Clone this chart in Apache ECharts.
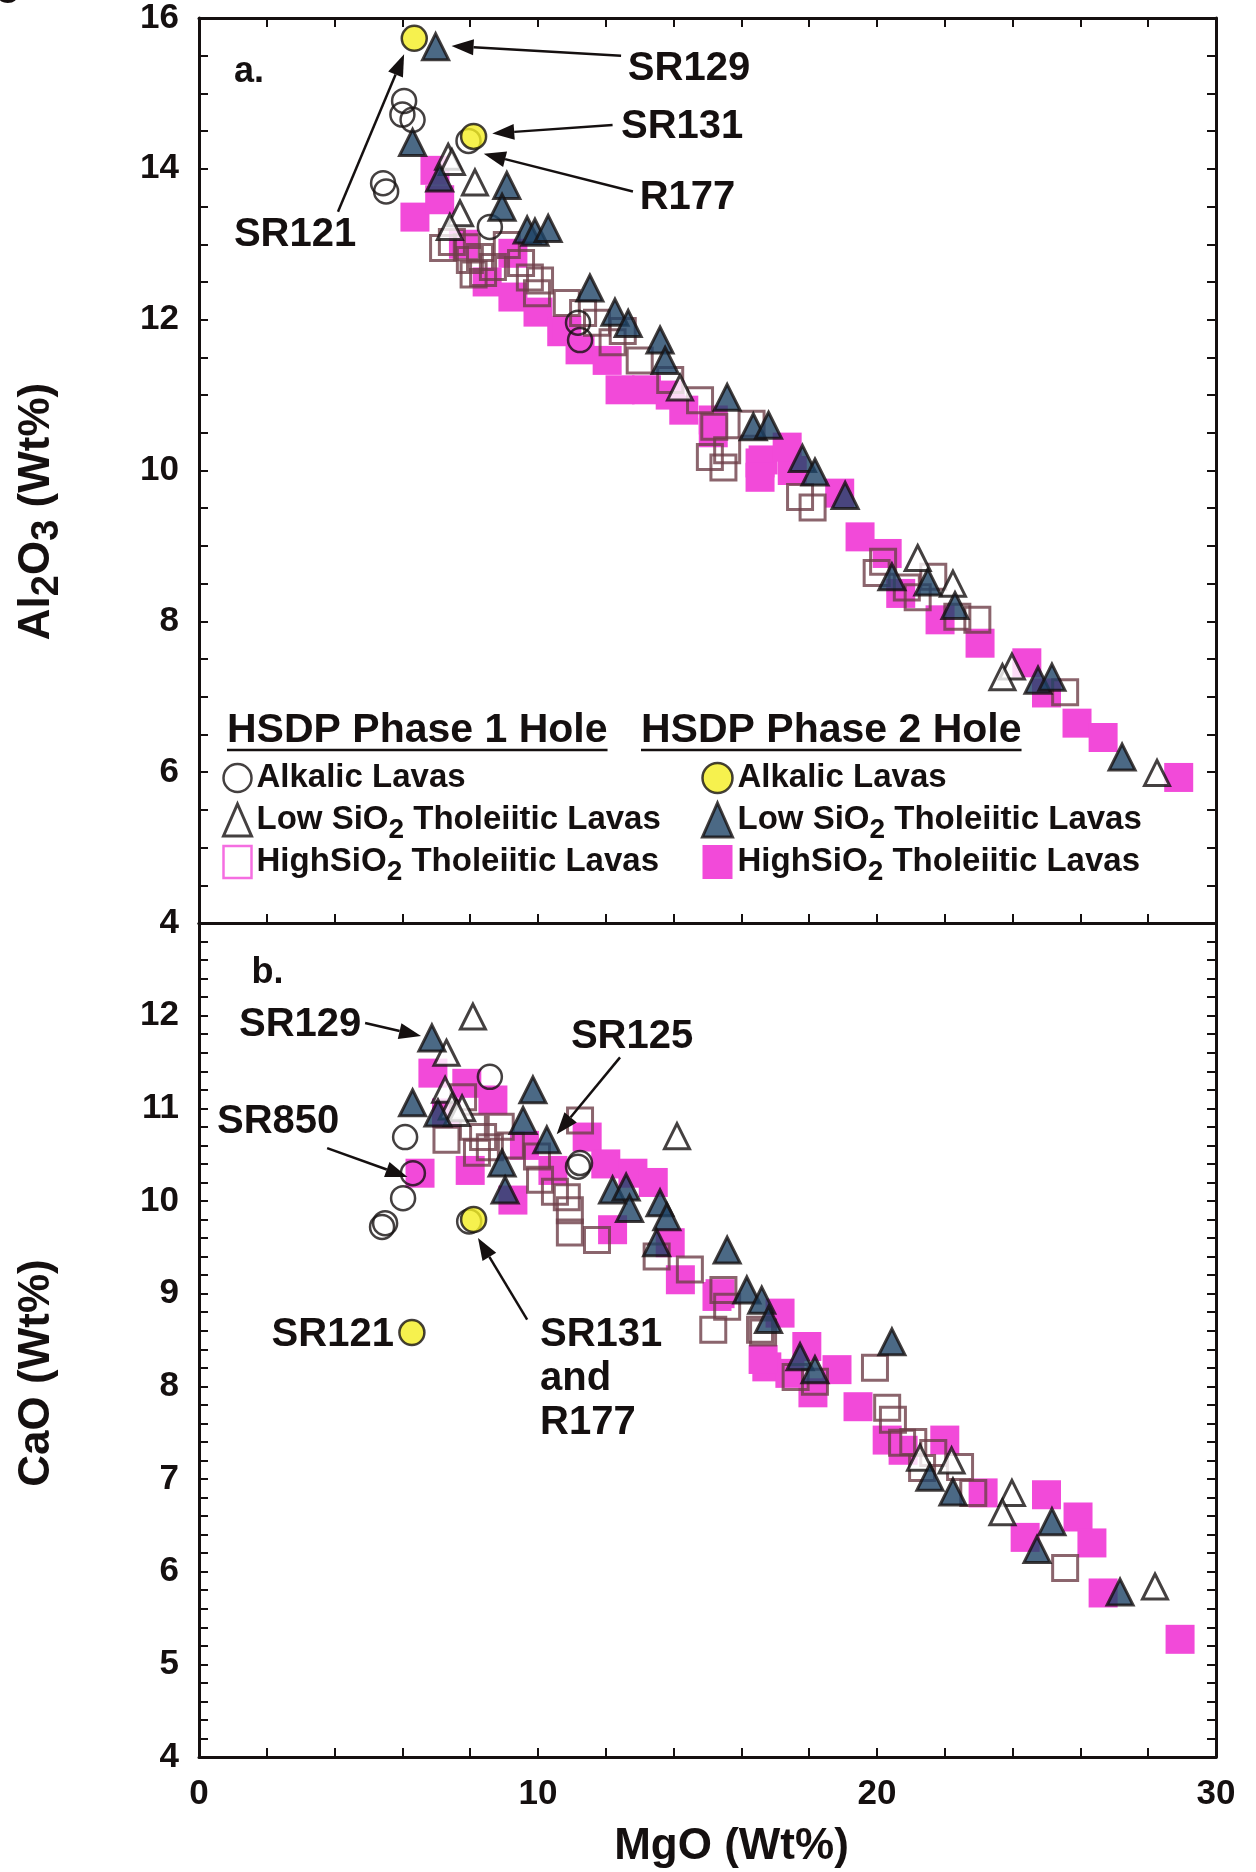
<!DOCTYPE html>
<html>
<head>
<meta charset="utf-8">
<script src="https://cdn.jsdelivr.net/npm/echarts@6/dist/echarts.min.js"></script>
<style>
  html, body { margin: 0; padding: 0; background: #ffffff; }
  #chart { width: 1256px; height: 1872px; }
</style>
</head>
<body>
<div id="chart"></div>
<script>
// ---------- Data: [MgO wt%, oxide wt%] ----------
// Panel a: Al2O3 vs MgO
const p1AlkalicAl = [[6.05,14.9],[6.0,14.72],[6.3,14.65],[5.43,13.81],[5.52,13.7],[8.58,13.23],[11.18,11.96],[11.24,11.73],[7.95,14.37]];
const p1LowSiAl = [[7.35,14.16],[7.46,14.09],[8.14,13.82],[7.7,13.41],[7.4,13.23],[14.19,11.1],[21.2,8.84],[22.24,8.5],[23.98,7.4],[23.7,7.26],[28.26,5.99]];
const p1HighSiAl = [[7.46,13.03],[7.9,12.96],[8.29,12.83],[8.67,12.7],[7.99,12.79],[8.38,12.62],[9.08,12.99],[9.76,12.56],[10.06,12.52],[9.97,12.35],[10.85,12.22],[11.33,12.09],[11.74,11.96],[13.0,11.46],[13.9,11.2],[14.78,10.93],[15.2,10.58],[15.58,10.27],[16.3,10.62],[15.47,10.04],[15.07,10.18],[17.73,9.65],[18.1,9.51],[20.18,8.79],[19.99,8.64],[20.88,8.45],[21.66,8.59],[22.37,8.06],[22.96,8.02],[25.55,7.06],[21.2,8.32],[7.2,12.95],[8.1,12.6],[9.5,12.75],[12.2,11.7],[12.5,11.85]];
const p2AlkalicAl = [[6.35,15.73],[8.1,14.43]];
const p2LowSiAl = [[6.98,15.62],[6.3,14.35],[7.1,13.88],[9.08,13.78],[8.94,13.49],[9.68,13.19],[9.91,13.16],[10.3,13.21],[11.53,12.42],[12.27,12.1],[12.66,11.95],[13.6,11.73],[13.75,11.46],[15.58,10.97],[16.35,10.58],[16.8,10.6],[17.8,10.16],[18.17,9.98],[19.06,9.67],[20.44,8.59],[21.5,8.52],[22.3,8.21],[24.75,7.22],[25.16,7.26],[27.23,6.2]];
const p2HighSiAl = [[6.37,13.36],[6.96,13.98],[7.1,13.59],[7.8,13.0],[8.5,12.5],[9.26,12.88],[9.26,12.3],[10.0,12.1],[10.7,11.84],[10.85,11.86],[11.24,11.6],[12.04,11.46],[12.42,11.07],[13.2,11.07],[13.9,11.0],[14.3,10.8],[15.17,10.67],[16.64,10.14],[17.5,10.0],[15.17,10.5],[16.55,10.1],[17.35,10.31],[16.55,9.91],[18.9,9.7],[19.5,9.12],[20.3,8.9],[20.7,8.37],[21.86,8.02],[23.04,7.71],[24.42,7.45],[25.0,7.05],[25.9,6.65],[26.67,6.46],[28.9,5.93]];

// Panel b: CaO vs MgO
const p1AlkalicCa = [[8.58,11.34],[6.08,10.69],[6.31,10.3],[6.02,10.03],[5.49,9.76],[5.4,9.72],[11.24,10.41],[11.18,10.37],[7.97,9.78]];
const p1LowSiCa = [[8.08,11.99],[7.3,11.6],[7.26,11.2],[7.46,11.02],[7.76,11.0],[7.6,10.95],[14.1,10.7],[21.27,7.23],[22.2,7.2],[23.98,6.85],[23.7,6.64],[28.2,5.84]];
const p1HighSiCa = [[7.3,10.66],[8.08,10.8],[8.38,10.69],[8.58,10.58],[8.2,10.52],[7.79,11.12],[9.2,10.6],[8.9,10.8],[9.97,10.48],[10.06,10.23],[10.5,10.1],[10.85,10.04],[10.94,9.9],[10.94,9.66],[11.74,9.58],[11.24,10.87],[13.5,9.4],[14.48,9.26],[15.17,8.61],[15.47,9.04],[16.64,8.58],[17.6,8.1],[15.58,8.86],[16.55,8.61],[18.17,8.05],[19.94,8.2],[20.3,7.77],[20.47,7.64],[20.74,7.39],[21.07,7.4],[21.33,7.12],[21.66,7.28],[22.45,7.13],[22.84,6.85],[25.55,6.04]];
const p2AlkalicCa = [[6.28,8.58],[8.1,9.8]];
const p2LowSiCa = [[6.87,11.76],[9.85,11.2],[6.3,11.06],[7.05,10.95],[9.56,10.87],[10.26,10.66],[8.94,10.41],[9.03,10.12],[12.2,10.12],[12.6,10.15],[12.7,9.92],[13.6,9.98],[13.8,9.83],[13.5,9.55],[15.58,9.47],[16.16,9.04],[16.6,8.93],[16.8,8.72],[17.73,8.32],[18.17,8.18],[20.44,8.48],[21.56,7.02],[22.24,6.86],[25.16,6.54],[24.72,6.24],[27.17,5.78]];
const p2HighSiCa = [[6.52,10.3],[6.9,11.38],[7.3,10.95],[7.9,11.27],[8.67,11.09],[8.0,10.33],[9.26,10.01],[9.6,10.6],[10.44,10.33],[11.45,10.69],[12.0,10.4],[12.8,10.3],[13.4,10.2],[12.2,9.69],[13.9,9.55],[14.2,9.15],[15.28,8.97],[15.37,9.0],[16.75,8.21],[17.43,8.14],[17.14,8.79],[16.64,8.29],[17.93,8.43],[18.82,8.18],[18.11,7.93],[19.44,7.78],[20.3,7.42],[22.0,7.42],[20.77,7.31],[23.13,6.85],[25.0,6.83],[25.93,6.59],[24.37,6.37],[26.34,6.31],[26.67,5.77],[28.94,5.27]];

// Axis ranges and tick labels
const mgoRange = [0, 30];
const mgoLabels = [0, 10, 20, 30];
const al2o3Range = [4, 16];
const al2o3Labels = [4, 6, 8, 10, 12, 14, 16];
const caoRange = [4, 13];
const caoLabels = [4, 5, 6, 7, 8, 9, 10, 11, 12];

// Labelled samples: text anchor and arrow (start -> tip) in data units
const notesA = [
  { text: 'SR129', at: [12.65, 15.32], from: [12.45, 15.5], to: [7.45, 15.63] },
  { text: 'SR131', at: [12.45, 14.56], from: [12.2, 14.58], to: [8.65, 14.47] },
  { text: 'R177', at: [13.0, 13.62], from: [12.8, 13.7], to: [8.4, 14.2] },
  { text: 'SR121', at: [1.03, 13.12], from: [4.1, 13.43], to: [6.05, 15.52] }
];
const notesB = [
  { text: 'SR129', at: [1.18, 11.9], from: [4.9, 11.92], to: [6.55, 11.78] },
  { text: 'SR125', at: [10.97, 11.77], from: [12.42, 11.55], to: [10.55, 10.72] },
  { text: 'SR850', at: [0.53, 10.85], from: [3.78, 10.57], to: [6.15, 10.26] },
  { text: 'SR121', at: [5.75, 8.55], align: 'right' },
  { text: 'SR131\nand\nR177', at: [10.06, 8.08], from: [9.68, 8.72], to: [8.23, 9.6] }
];

// ---------- Styles ----------
const FONT = '"Liberation Sans", Arial, Helvetica, sans-serif';
const INK = '#151010';
const PINK = '#f24ad9';
const NAVY = '#1e4466';
const YELLOW = '#f4ee22';
const BROWN = '#6e3f49';

const NAMES = {
  p1Alk: 'Phase 1 Alkalic Lavas',
  p1Low: 'Phase 1 Low SiO2 Tholeiitic Lavas',
  p1High: 'Phase 1 HighSiO2 Tholeiitic Lavas',
  p2Alk: 'Phase 2 Alkalic Lavas',
  p2Low: 'Phase 2 Low SiO2 Tholeiitic Lavas',
  p2High: 'Phase 2 HighSiO2 Tholeiitic Lavas'
};
// legend labels; a blank subscript token keeps every row the same height
const legendText = {};
legendText[NAMES.p1Alk] = 'Alkalic Lavas{s| }';
legendText[NAMES.p1Low] = 'Low SiO{s|2} Tholeiitic Lavas';
legendText[NAMES.p1High] = 'HighSiO{s|2} Tholeiitic Lavas';
legendText[NAMES.p2Alk] = 'Alkalic Lavas{s| }';
legendText[NAMES.p2Low] = 'Low SiO{s|2} Tholeiitic Lavas';
legendText[NAMES.p2High] = 'HighSiO{s|2} Tholeiitic Lavas';

const markerStyles = {
  p2High: { symbol: 'rect', symbolSize: 29, itemStyle: { color: PINK, borderWidth: 0, opacity: 1 }, z: 2 },
  p1High: { symbol: 'rect', symbolSize: 25, itemStyle: { color: 'rgba(255,255,255,0)', borderColor: BROWN, borderWidth: 3 }, z: 3 },
  p1Alk: { symbol: 'circle', symbolSize: 24, itemStyle: { color: 'rgba(255,255,255,0)', borderColor: INK, borderWidth: 2.5 }, z: 4 },
  p1Low: { symbol: 'triangle', symbolSize: [25, 25], itemStyle: { color: '#ffffff', borderColor: INK, borderWidth: 3 }, z: 5 },
  p2Low: { symbol: 'triangle', symbolSize: [26, 26], itemStyle: { color: NAVY, borderColor: INK, borderWidth: 3 }, z: 6 },
  p2Alk: { symbol: 'circle', symbolSize: 25, itemStyle: { color: YELLOW, borderColor: INK, borderWidth: 2.5 }, z: 7 }
};

function scatter(key, data, panel) {
  const s = markerStyles[key];
  const axis = panel === 0 ? 0 : 2;
  return {
    type: 'scatter', name: NAMES[key], data: data,
    xAxisIndex: axis, yAxisIndex: axis,
    symbol: s.symbol, symbolSize: s.symbolSize, itemStyle: s.itemStyle,
    z: s.z, silent: true, animation: false,
    emphasis: { disabled: true }
  };
}

const series = [
  scatter('p2High', p2HighSiAl, 0), scatter('p1High', p1HighSiAl, 0), scatter('p1Alk', p1AlkalicAl, 0),
  scatter('p1Low', p1LowSiAl, 0), scatter('p2Low', p2LowSiAl, 0), scatter('p2Alk', p2AlkalicAl, 0),
  scatter('p2High', p2HighSiCa, 1), scatter('p1High', p1HighSiCa, 1), scatter('p1Alk', p1AlkalicCa, 1),
  scatter('p1Low', p1LowSiCa, 1), scatter('p2Low', p2LowSiCa, 1), scatter('p2Alk', p2AlkalicCa, 1)
];

// ---------- Axes ----------
const lineStyle = { color: INK, width: 3 };
const tickIn = { show: true, inside: true, length: 9, lineStyle: { color: INK, width: 2 } };
const labelFont = { color: INK, fontFamily: FONT, fontWeight: 'bold', fontSize: 35 };
const subRich = (size, pad) => ({ s: { fontFamily: FONT, fontWeight: 'bold', fontSize: size, lineHeight: 20, padding: [pad, 0, 0, 0], color: INK } });
const near = (v, list) => list.some(t => Math.abs(v - t) < 1e-6);

function xAxis(grid, pos, opts) {
  return Object.assign({
    type: 'value', gridIndex: grid, position: pos, min: mgoRange[0], max: mgoRange[1], interval: 2,
    axisLine: { show: true, onZero: false, lineStyle }, axisTick: tickIn,
    axisLabel: { show: false }, splitLine: { show: false }
  }, opts || {});
}
function yAxis(grid, pos, range, step, opts) {
  return Object.assign({
    type: 'value', gridIndex: grid, position: pos, min: range[0], max: range[1], interval: step,
    axisLine: { show: true, onZero: false, lineStyle }, axisTick: tickIn,
    axisLabel: { show: false }, splitLine: { show: false }
  }, opts || {});
}

const option = {
  backgroundColor: '#ffffff',
  animation: false,
  textStyle: { fontFamily: FONT },
  grid: [
    { left: 199, right: 40, top: 18, height: 905, containLabel: false, outerBoundsMode: 'none' },
    { left: 199, right: 40, top: 923, height: 834, containLabel: false, outerBoundsMode: 'none' }
  ],
  xAxis: [
    xAxis(0, 'bottom'),
    xAxis(0, 'top'),
    xAxis(1, 'bottom', {
      axisLabel: Object.assign({ show: true, margin: 20, formatter: v => near(v, mgoLabels) ? String(Math.round(v)) : '' }, labelFont),
      name: 'MgO (Wt%)', nameLocation: 'middle', nameGap: 68,
      nameTextStyle: { color: INK, fontFamily: FONT, fontWeight: 'bold', fontSize: 44, padding: [0, 0, 0, 48] }
    }),
    xAxis(1, 'top', { axisTick: { show: false } })
  ],
  yAxis: [
    yAxis(0, 'left', al2o3Range, 0.5, {
      axisLabel: Object.assign({ show: true, margin: 20, formatter: v => near(v, al2o3Labels) ? String(Math.round(v)) : '' }, labelFont),
      name: 'Al{s|2}O{s|3} (Wt%)', nameLocation: 'middle', nameGap: 140, nameRotate: 90,
      nameTextStyle: { color: INK, fontFamily: FONT, fontWeight: 'bold', fontSize: 44, lineHeight: 44, padding: [0, 82, 0, 0], rich: subRich(38, 22) }
    }),
    yAxis(0, 'right', al2o3Range, 0.5),
    yAxis(1, 'left', caoRange, 0.2, {
      axisLabel: Object.assign({ show: true, margin: 20, formatter: v => near(v, caoLabels) ? String(Math.round(v)) : '' }, labelFont),
      name: 'CaO (Wt%)', nameLocation: 'middle', nameGap: 140, nameRotate: 90,
      nameTextStyle: { color: INK, fontFamily: FONT, fontWeight: 'bold', fontSize: 44, padding: [0, 66, 0, 0] }
    }),
    yAxis(1, 'right', caoRange, 0.2)
  ],
  legend: [
    {
      left: 222, top: 754, orient: 'vertical', itemGap: -6, itemWidth: 28, itemHeight: 32, padding: 0,
      selectedMode: false,
      data: [
        { name: NAMES.p1Alk, icon: 'circle', itemStyle: { color: 'rgba(255,255,255,0)', borderColor: INK, borderWidth: 2.5 } },
        { name: NAMES.p1Low, icon: 'triangle', itemStyle: { color: '#ffffff', borderColor: INK, borderWidth: 3 } },
        { name: NAMES.p1High, icon: 'rect', itemStyle: { color: 'rgba(255,255,255,0)', borderColor: PINK, borderWidth: 2.5 } }
      ],
      formatter: n => legendText[n],
      textStyle: { color: INK, fontFamily: FONT, fontWeight: 'bold', fontSize: 33, lineHeight: 40, rich: subRich(28, 20) }
    },
    {
      left: 701, top: 754, orient: 'vertical', itemGap: -6, itemWidth: 30, itemHeight: 34, padding: 0,
      selectedMode: false,
      data: [
        { name: NAMES.p2Alk, icon: 'circle', itemStyle: { color: YELLOW, borderColor: INK, borderWidth: 2.5 } },
        { name: NAMES.p2Low, icon: 'triangle', itemStyle: { color: NAVY, borderColor: INK, borderWidth: 3 } },
        { name: NAMES.p2High, icon: 'rect', itemStyle: { color: PINK, borderWidth: 0 } }
      ],
      formatter: n => legendText[n],
      textStyle: { color: INK, fontFamily: FONT, fontWeight: 'bold', fontSize: 33, lineHeight: 40, rich: subRich(28, 20) }
    }
  ],
  series: series
};

const chart = echarts.init(document.getElementById('chart'), null, { renderer: 'canvas', width: 1256, height: 1872 });
chart.setOption(option);

// ---------- Annotations (positioned through the axes) ----------
function toPx(panel, pt) {
  const i = panel === 0 ? 0 : 2;
  return chart.convertToPixel({ xAxisIndex: i, yAxisIndex: i }, pt);
}
function arrowEls(a, b) {
  const dx = b[0] - a[0], dy = b[1] - a[1];
  const L = Math.hypot(dx, dy), ux = dx / L, uy = dy / L;
  const hl = 22, hw = 8;
  const base = [b[0] - ux * hl, b[1] - uy * hl];
  return [
    { type: 'line', shape: { x1: a[0], y1: a[1], x2: base[0], y2: base[1] }, style: { stroke: INK, lineWidth: 2.5 }, z: 20 },
    { type: 'polygon', shape: { points: [b, [base[0] - uy * hw, base[1] + ux * hw], [base[0] + uy * hw, base[1] - ux * hw]] }, style: { fill: INK }, z: 20 }
  ];
}
function textEl(x, y, text, size, align) {
  return {
    type: 'text', x: x, y: y, z: 20,
    style: {
      text: text, fill: INK, font: 'bold ' + size + 'px ' + FONT, lineHeight: 44,
      align: align || 'left', verticalAlign: 'middle',
      textAlign: align || 'left', textVerticalAlign: 'middle'
    }
  };
}
const graphics = [];
[[0, notesA], [1, notesB]].forEach(([panel, notes]) => {
  notes.forEach(n => {
    const p = toPx(panel, n.at);
    graphics.push(textEl(p[0], p[1], n.text, 40, n.align));
    if (n.from) graphics.push(...arrowEls(toPx(panel, n.from), toPx(panel, n.to)));
  });
});
// panel letters
const pa = toPx(0, [1.03, 15.28]);
const pb = toPx(1, [1.55, 12.46]);
graphics.push(textEl(pa[0], pa[1], 'a.', 36));
graphics.push(textEl(pb[0], pb[1], 'b.', 36));

// legend headings with underline
const measure = document.createElement('canvas').getContext('2d');
[['HSDP Phase 1 Hole', 227], ['HSDP Phase 2 Hole', 641]].forEach(([t, x]) => {
  const font = 'bold 41px ' + FONT;
  measure.font = font;
  const w = measure.measureText(t).width;
  graphics.push({ type: 'text', x: x, y: 731, z: 20, style: { text: t, fill: INK, font: font, align: 'left', verticalAlign: 'middle', textAlign: 'left', textVerticalAlign: 'middle' } });
  graphics.push({ type: 'line', z: 20, shape: { x1: x, y1: 750, x2: x + w, y2: 750 }, style: { stroke: INK, lineWidth: 2.5 } });
});

// clipped caption remnant in the top-left corner
graphics.push({ type: 'text', x: -4, y: -16, z: 20, style: { text: 'g', fill: INK, font: 'bold 40px ' + FONT, align: 'left', verticalAlign: 'middle', textAlign: 'left', textVerticalAlign: 'middle' } });

chart.setOption({ graphic: { elements: graphics } });
</script>
</body>
</html>
